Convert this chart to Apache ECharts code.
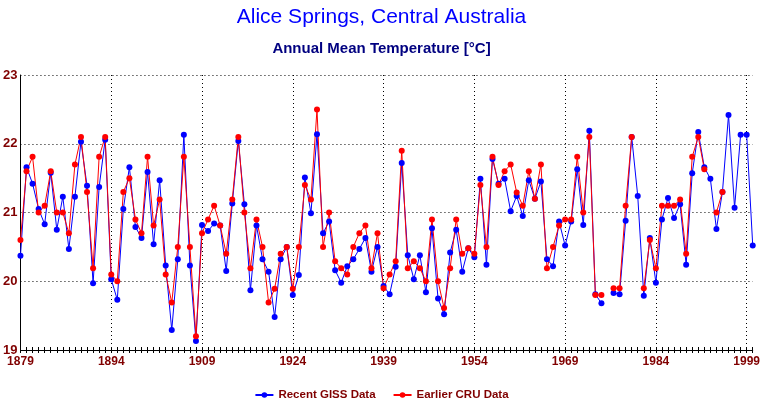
<!DOCTYPE html>
<html>
<head>
<meta charset="utf-8">
<script src="https://cdn.jsdelivr.net/npm/echarts@6/dist/echarts.min.js"></script>
<style>
  html, body { margin: 0; padding: 0; background: #ffffff; }
  #chart { width: 763px; height: 399px; }
</style>
</head>
<body>
<div id="chart"></div>
<script>
// Alice Springs annual mean temperature, 1879 onward (null = no data that year)
const startYear = 1879;

const gissData = [
  20.37, 21.66, 21.42, 21.05, 20.83, 21.58, 20.75, 21.23, 20.47, 21.23,
  22.03, 21.39, 19.97, 21.37, 22.06, 20.03, 19.73, 21.05, 21.66, 20.79,
  20.63, 21.59, 20.54, 21.47, 20.23, 19.29, 20.32, 22.13, 20.23, 19.13,
  20.82, 20.73, 20.84, 20.81, 20.15, 21.13, 22.04, 21.12, 19.87, 20.81,
  20.32, 20.14, 19.48, 20.32, 20.50, 19.80, 20.09, 21.51, 20.99, 22.14,
  20.70, 20.87, 20.16, 19.98, 20.22, 20.32, 20.47, 20.63, 20.14, 20.50,
  19.93, 19.81, 20.21, 21.72, 20.38, 20.03, 20.38, 19.84, 20.77, 19.75,
  19.52, 20.42, 20.75, 20.14, 20.48, 20.35, 21.49, 20.24, 21.78, 21.42,
  21.49, 21.02, 21.24, 20.95, 21.47, 21.20, 21.45, 20.32, 20.22, 20.87,
  20.52, 20.87, 21.63, 20.82, 22.19, 19.81, 19.68, null, 19.83, 19.81,
  20.88, 22.10, 21.24, 19.79, 20.63, 19.98, 20.90, 21.21, 20.92, 21.12,
  20.24, 21.57, 22.17, 21.66, 21.49, 20.76, 21.30, 22.42, 21.07, 22.13,
  22.13, 20.52
];

const cruData = [
  20.60, 21.60, 21.81, 21.00, 21.10, 21.60, 21.00, 21.00, 20.70, 21.70,
  22.10, 21.30, 20.19, 21.81, 22.10, 20.10, 20.00, 21.30, 21.50, 20.90,
  20.70, 21.81, 20.81, 21.19, 20.10, 19.69, 20.50, 21.81, 20.50, 19.20,
  20.70, 20.90, 21.10, 20.81, 20.40, 21.19, 22.10, 21.00, 20.19, 20.90,
  20.50, 19.69, 19.89, 20.40, 20.50, 19.89, 20.50, 21.40, 21.19, 22.50,
  20.50, 21.00, 20.29, 20.19, 20.10, 20.50, 20.70, 20.81, 20.19, 20.70,
  19.90, 20.10, 20.29, 21.90, 20.19, 20.29, 20.19, 20.00, 20.90, 20.00,
  19.61, 20.19, 20.90, 20.40, 20.48, 20.40, 21.40, 20.50, 21.81, 21.40,
  21.60, 21.70, 21.29, 21.10, 21.60, 21.20, 21.70, 20.19, 20.50, 20.81,
  20.90, 20.90, 21.81, 21.00, 22.10, 19.80, 19.80, null, 19.90, 19.90,
  21.10, 22.10, null, 19.90, 20.60, 20.19, 21.10, 21.10, 21.10, 21.19,
  20.40, 21.81, 22.10, 21.63, null, 21.00, 21.30
];

const seriesNames = ["Recent GISS Data", "Earlier CRU Data"];

const toPoints = (values) => values.map((v, i) => [startYear + i, v]);

const darkRed = "#800000";
const xMin = 1879;
const xMax = 2000;

const chart = echarts.init(document.getElementById("chart"), null, { renderer: "canvas" });

// one tick per year, drawn both above and below the x axis line
const tickAxis = (inside) => ({
  type: "value",
  position: "bottom",
  min: xMin,
  max: xMax,
  interval: 1,
  axisLine: { show: false, onZero: false },
  axisTick: { show: true, inside: inside, length: 3, lineStyle: { color: "#000", width: 1 } },
  axisLabel: { show: false },
  splitLine: { show: false }
});

chart.setOption({
  backgroundColor: "#ffffff",
  animation: false,
  title: [
    {
      text: "Alice Springs, Central Australia",
      left: "center",
      top: 2,
      textStyle: { color: "#0000ff", fontSize: 21, fontWeight: "normal", fontFamily: "Liberation Sans" }
    },
    {
      text: "Annual Mean Temperature [°C]",
      left: "center",
      top: 36,
      textStyle: { color: "#000080", fontSize: 15, fontWeight: "bold", fontFamily: "Liberation Sans" }
    }
  ],
  legend: {
    data: seriesNames,
    left: "center",
    top: 384,
    itemWidth: 18,
    itemHeight: 7,
    itemGap: 17,
    textStyle: { color: darkRed, fontSize: 11.5, fontWeight: "bold", fontFamily: "Liberation Sans" }
  },
  grid: { left: 18, right: 9, top: 75, bottom: 49 },
  xAxis: [
    {
      type: "value",
      position: "bottom",
      min: xMin,
      max: xMax,
      interval: 15,
      axisLine: { show: true, onZero: false, lineStyle: { color: "#000", width: 1 } },
      axisTick: { show: false },
      axisLabel: {
        color: darkRed,
        fontSize: 12,
        fontWeight: "bold",
        fontFamily: "Liberation Sans",
        margin: 6,
        showMaxLabel: false,
        formatter: (v) => String(v)
      },
      splitLine: {
        show: true,
        showMaxLine: false,
        lineStyle: { color: "#000", type: [1, 3], width: 1 }
      }
    },
    tickAxis(false),
    tickAxis(true)
  ],
  yAxis: {
    type: "value",
    min: 19,
    max: 23,
    interval: 1,
    axisLine: { show: true, lineStyle: { color: "#000", width: 1 } },
    axisTick: { show: false },
    axisLabel: {
      color: darkRed,
      fontSize: 13,
      fontWeight: "bold",
      fontFamily: "Liberation Sans",
      margin: 3
    },
    splitLine: { show: true, lineStyle: { color: "#000", type: [1, 3], width: 1 } }
  },
  series: [
    {
      name: seriesNames[0],
      type: "line",
      xAxisIndex: 0,
      data: toPoints(gissData),
      color: "#0000ff",
      symbol: "circle",
      symbolSize: 6,
      showAllSymbol: true,
      connectNulls: false,
      lineStyle: { width: 1, color: "#0000ff" },
      itemStyle: { color: "#0000ff" }
    },
    {
      name: seriesNames[1],
      type: "line",
      xAxisIndex: 0,
      data: toPoints(cruData),
      color: "#ff0000",
      symbol: "circle",
      symbolSize: 6,
      showAllSymbol: true,
      connectNulls: false,
      lineStyle: { width: 1, color: "#ff0000" },
      itemStyle: { color: "#ff0000" }
    }
  ]
});
</script>
</body>
</html>
